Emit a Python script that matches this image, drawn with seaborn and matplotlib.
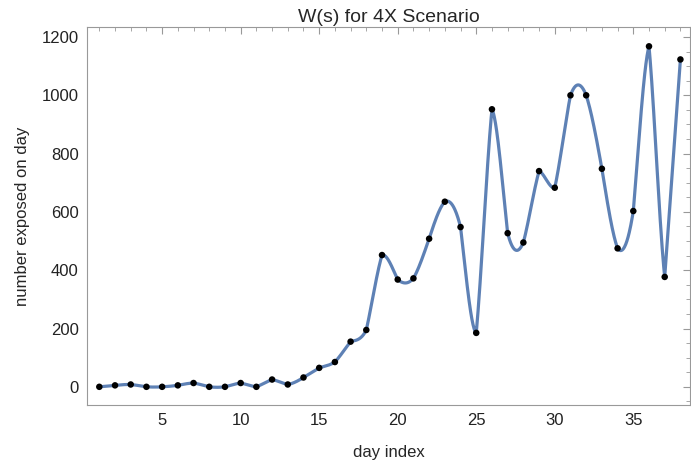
import numpy as np
import pandas as pd
import seaborn as sns
import matplotlib.pyplot as plt
from matplotlib.ticker import MultipleLocator

days = list(range(1, 39))
exposed = [0, 5, 8, 0, 0, 5, 13, 0, 0, 13, 0, 25, 8, 32, 65, 85, 155, 195,
           452, 368, 372, 508, 635, 548, 185, 952, 527, 495, 740, 683,
           1000, 1000, 748, 475, 603, 1168, 377, 1123]

df = pd.DataFrame({"day": days, "exposed": exposed})


def local_cubic(x, y, xs):
    # piecewise cubic: each interval uses the cubic through its 4 nearest points,
    # end intervals fall back to a straight line
    x = np.asarray(x, float)
    y = np.asarray(y, float)
    n = len(x)
    out = np.empty_like(xs)
    idx = np.clip(np.searchsorted(x, xs, side="right") - 1, 0, n - 2)
    for k, t in enumerate(xs):
        i = idx[k]
        if i == 0 or i == n - 2:
            f = (t - x[i]) / (x[i + 1] - x[i])
            out[k] = y[i] + f * (y[i + 1] - y[i])
            continue
        px = x[i - 1:i + 3]
        py = y[i - 1:i + 3]
        v = 0.0
        for j in range(4):
            term = py[j]
            for m in range(4):
                if m != j:
                    term *= (t - px[m]) / (px[j] - px[m])
            v += term
        out[k] = v
    return out


xs = np.linspace(df["day"].min(), df["day"].max(), 1500)
curve = pd.DataFrame({"day": xs, "exposed": local_cubic(df["day"], df["exposed"], xs)})

sns.set_style("white")
plt.rcParams["font.family"] = ["Liberation Sans", "DejaVu Sans"]

fig = plt.figure(figsize=(6.91, 4.67), dpi=100)
ax = fig.add_axes([0.126, 0.133, 0.873, 0.809])

sns.lineplot(data=curve, x="day", y="exposed", color="#5E81B5", linewidth=2.3, ax=ax)
sns.scatterplot(data=df, x="day", y="exposed", color="black", s=22, edgecolor="none",
                zorder=3, ax=ax)

ax.set_xlim(0.22, 38.63)
ax.set_ylim(-62, 1234)
ax.xaxis.set_major_locator(MultipleLocator(5))
ax.xaxis.set_minor_locator(MultipleLocator(1))
ax.yaxis.set_major_locator(MultipleLocator(200))
ax.yaxis.set_minor_locator(MultipleLocator(50))
ax.tick_params(which="both", direction="in", top=True, right=True, color="#999999",
               labelsize=12, labelcolor="#222222")
ax.tick_params(which="major", length=5, width=0.8)
ax.tick_params(which="minor", length=3, width=0.6)
ax.tick_params(axis="x", labeltop=False, pad=6)
ax.tick_params(axis="y", labelright=False, pad=6)
for s in ax.spines.values():
    s.set_color("#999999")
    s.set_linewidth(0.8)

ax.set_xlabel("day index", fontsize=12, labelpad=12)
ax.set_ylabel("number exposed on day", fontsize=12, labelpad=8)
ax.set_title("W(s) for 4X Scenario", fontsize=14, pad=4)

fig.savefig("out.png", dpi=100)
